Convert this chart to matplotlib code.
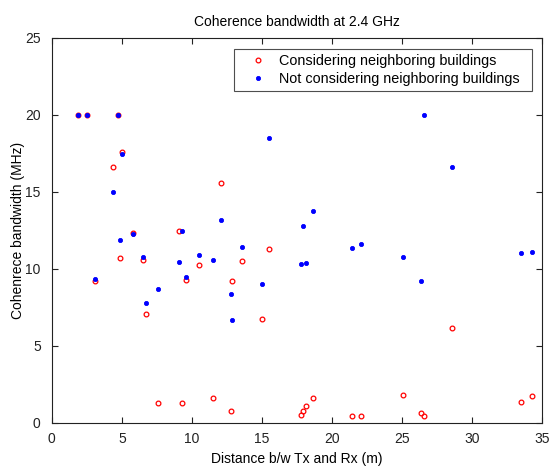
import matplotlib
matplotlib.use("Agg")
import matplotlib.pyplot as plt

plt.rcParams['font.family'] = ['Liberation Sans', 'DejaVu Sans']

# Tx-Rx distance (m) for each measured link
distance = [1.87, 2.54, 3.09, 4.39, 4.71, 4.87, 5.04, 5.78, 6.49, 6.73,
            7.61, 9.09, 9.32, 9.56, 10.54, 11.49, 12.06, 12.80, 12.87, 13.61,
            14.99, 15.54, 17.78, 17.90, 18.16, 18.63, 21.44, 22.10, 25.06, 26.37,
            26.60, 28.56, 33.49, 34.30]

# Coherence bandwidth (MHz) with neighbouring buildings in the model
bw_with = [20.0, 20.0, 9.20, 16.57, 20.0, 10.69, 17.60, 12.31, 10.54, 7.02,
           1.29, 12.46, 1.29, 9.28, 10.26, 1.57, 15.55, 0.77, 9.22, 10.47,
           6.71, 11.27, 0.49, 0.77, 1.07, 1.57, 0.40, 0.40, 1.80, 0.64,
           0.42, 6.15, 1.35, 1.74]

# Coherence bandwidth (MHz) without neighbouring buildings
bw_without = [20.0, 20.0, 9.31, 14.95, 20.0, 11.86, 17.46, 12.22, 10.78, 7.77,
              8.70, 10.41, 12.46, 9.44, 10.91, 10.56, 13.18, 8.33, 6.65, 11.43,
              9.00, 18.47, 10.32, 12.74, 10.39, 13.72, 11.36, 11.58, 10.75, 9.22,
              20.0, 16.57, 10.99, 11.06]

x_ticks = [0, 5, 10, 15, 20, 25, 30, 35]
y_ticks = [0, 5, 10, 15, 20, 25]

fig = plt.figure(figsize=(5.49, 4.66), dpi=100)
ax = fig.add_axes([0.0944, 0.0933, 0.893, 0.826])

ax.plot(distance, bw_with, linestyle='none', marker='o', markersize=3.4,
        markerfacecolor='none', markeredgecolor='#ff0000', markeredgewidth=0.9,
        label='Considering neighboring buildings')
ax.plot(distance, bw_without, linestyle='none', marker='o', markersize=3.0,
        markerfacecolor='#0000ff', markeredgecolor='#0000ff', markeredgewidth=0.6,
        label='Not considering neighboring buildings')

ax.set_xlim(0, 35)
ax.set_ylim(0, 25)
ax.set_xticks(x_ticks)
ax.set_yticks(y_ticks)
ax.tick_params(direction='in', top=True, right=True, length=4, width=0.8,
               labelsize=10, colors='#222222')
ax.tick_params(axis='x', pad=7)
ax.tick_params(axis='y', pad=8)
for s in ax.spines.values():
    s.set_linewidth(0.8)
    s.set_color('#222222')

ax.set_title('Coherence bandwidth at 2.4 GHz', fontsize=10, pad=8)
ax.set_xlabel('Distance b/w Tx and Rx (m)', fontsize=10, labelpad=4)
ax.set_ylabel('Cohenrece bandwidth (MHz)', fontsize=10, labelpad=0)

leg = ax.legend(loc='upper left', bbox_to_anchor=(0.3717, 0.970, 0.608, 0.0),
                mode='expand', borderaxespad=0.0, fontsize=10.4, frameon=True,
                fancybox=False, edgecolor='#222222', borderpad=0.35,
                handlelength=2.6, handletextpad=0.15, labelspacing=0.25)
leg.get_frame().set_linewidth(0.8)

fig.savefig('out.png', dpi=100)
